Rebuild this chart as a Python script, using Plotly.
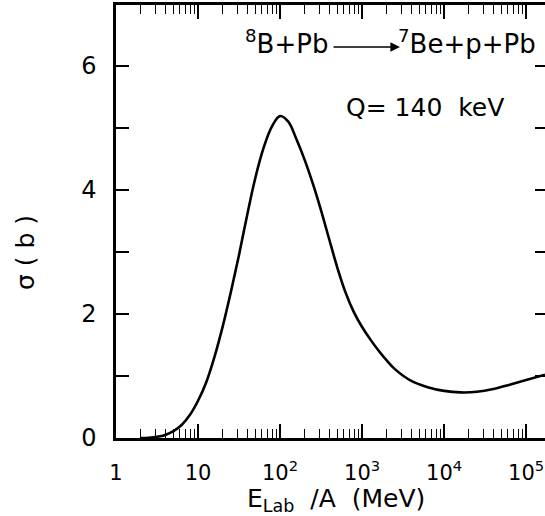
import plotly.graph_objects as go

# Data (E_lab/A in MeV, sigma in barn)
energy_mev = [2.0, 2.51, 3.16, 3.98, 5.01, 6.31, 7.94, 10.0, 12.6, 15.8, 20.0, 25.1,
              31.6, 39.8, 50.1, 63.1, 79.4, 100, 126, 158, 200, 251, 316, 398, 501,
              631, 794, 1000, 1259, 1585, 1995, 2512, 3981, 6310, 10000, 15849,
              25119, 39811, 63096, 100000, 169824]
sigma_b = [0.0, 0.005, 0.02, 0.05, 0.11, 0.21, 0.37, 0.60, 0.90, 1.30, 1.80, 2.35,
           2.95, 3.60, 4.20, 4.68, 5.02, 5.19, 5.10, 4.82, 4.48, 4.10, 3.67, 3.20,
           2.74, 2.34, 2.03, 1.79, 1.59, 1.41, 1.25, 1.11, 0.92, 0.82, 0.76, 0.735,
           0.745, 0.79, 0.86, 0.935, 1.02]

x_tickvals = [1, 10, 100, 1000, 10000, 100000]
x_ticktext = ["1", "10", "10<sup>2</sup>", "10<sup>3</sup>", "10<sup>4</sup>", "10<sup>5</sup>"]
y_tickvals = [0, 2, 4, 6]
y_ticktext = ["0", "2", "4", "6"]

FONT = "DejaVu Sans"
W, H = 545, 516
ML, MR, MT, MB = 116, 0, 5, 78
PW, PH = W - ML - MR, H - MT - MB


def px(xp):
    return (xp - ML) / PW


def py(yp):
    return (H - MB - yp) / PH


fig = go.Figure()
fig.add_trace(go.Scatter(x=energy_mev, y=sigma_b, mode="lines",
                         line=dict(color="black", width=2.6, shape="spline", smoothing=1.0),
                         hoverinfo="skip", showlegend=False))
# invisible trace for right-hand tick axis
fig.add_trace(go.Scatter(x=energy_mev, y=sigma_b, yaxis="y2", mode="lines",
                         line=dict(width=0), opacity=0, hoverinfo="skip", showlegend=False))

fig.update_layout(
    width=W, height=H,
    margin=dict(l=ML, r=MR, t=MT, b=MB),
    paper_bgcolor="white", plot_bgcolor="white",
    font=dict(family=FONT, color="black", size=21),
    xaxis=dict(type="log", range=[0, 5.23], showgrid=False, zeroline=False,
               showline=True, linecolor="black", linewidth=2.5, mirror="ticks",
               ticks="inside", ticklen=14, tickwidth=1.6, tickcolor="black",
               tickmode="array", tickvals=x_tickvals, ticktext=x_ticktext,
               tickfont=dict(size=21), ticklabelstandoff=14,
               minor=dict(ticks="inside", ticklen=9, tickwidth=1.4, tickcolor="black",
                          dtick="D1", showgrid=False)),
    yaxis=dict(range=[0, 6.98], showgrid=False, zeroline=False,
               showline=True, linecolor="black", linewidth=2.5,
               ticks="inside", ticklen=13, tickwidth=1.6, tickcolor="black",
               tickmode="array", tickvals=y_tickvals, ticktext=y_ticktext,
               tickfont=dict(size=24), ticklabelstandoff=12,
               minor=dict(ticks="inside", ticklen=13, tickwidth=1.6, tickcolor="black",
                          tickvals=[1, 3, 5], showgrid=False)),
    yaxis2=dict(range=[0, 6.98], overlaying="y", side="right", showgrid=False,
                zeroline=False, showline=False, ticks="inside", ticklen=10,
                tickwidth=1.6, tickcolor="black", tickmode="array",
                tickvals=[0, 1, 2, 3, 4, 5, 6], showticklabels=False),
)

ann = []
ann.append(dict(text="<sup>8</sup>B+Pb", x=px(330), y=py(42), xref="paper", yref="paper",
                xanchor="right", yanchor="middle", showarrow=False, font=dict(size=26)))
ann.append(dict(text="<sup>7</sup>Be+p+Pb", x=px(396), y=py(42), xref="paper", yref="paper",
                xanchor="left", yanchor="middle", showarrow=False, font=dict(size=26)))
ann.append(dict(text="", x=px(400), y=py(47), xref="paper", yref="paper",
                ax=-68, ay=0, showarrow=True, arrowhead=2, arrowsize=1.2,
                arrowwidth=1.6, arrowcolor="black"))
ann.append(dict(text="Q= 140  keV", x=px(425), y=py(107), xref="paper", yref="paper",
                xanchor="center", yanchor="middle", showarrow=False, font=dict(size=25)))
ann.append(dict(text="E<sub>Lab</sub>  /A  (MeV)", x=px(336), y=py(500), xref="paper", yref="paper",
                xanchor="center", yanchor="middle", showarrow=False, font=dict(size=25)))
ann.append(dict(text="σ ( b )", x=px(26), y=py(253), xref="paper", yref="paper",
                xanchor="center", yanchor="middle", textangle=-90, showarrow=False,
                font=dict(size=25)))
fig.update_layout(annotations=ann)

fig.write_html("out.html", config={"displayModeBar": False},
               post_script="document.body.style.margin='0';document.body.style.overflow='hidden';")
